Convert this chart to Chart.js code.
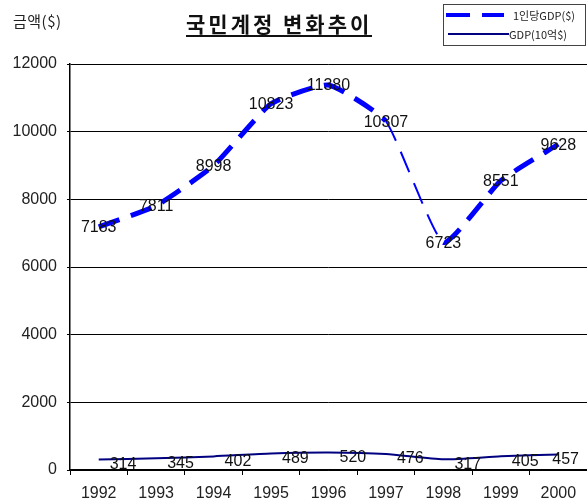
<!doctype html>
<html>
<head>
  <meta charset="utf-8" />
  <title>국민계정 변화추이</title>
  <script src="https://cdn.jsdelivr.net/npm/chart.js"></script>
  <style>
    body { margin: 0; background: #fff; }
    .wrap { position: relative; width: 587px; height: 504px; }
    canvas { position: absolute; left: 0; top: 0; }
    .title { position: absolute; left: 186px; top: 11px; font-family: "Noto Sans CJK KR", sans-serif; font-weight: bold;
             font-size: 21px; line-height: 24px; letter-spacing: 3px; color: #111; border-bottom: 2px solid #111; }
    .unit { position: absolute; left: 13px; top: 10px; font-family: "Noto Sans CJK KR", sans-serif; font-size: 15px; color: #222; letter-spacing: 0.5px; }
    .legend { position: absolute; left: 443px; top: 4px; width: 141px; height: 40px; border: 1px solid #444; background: #fff; }
    .legend .txt { position: absolute; font-family: "Noto Sans CJK KR", sans-serif; font-size: 11px; line-height: 14px; color: #222; white-space: nowrap; }
    .legend .sw { position: absolute; }
  </style>
</head>
<body>
  <div class="wrap">
    <canvas id="chart" width="587" height="504"></canvas>
    <div class="unit">금액($)</div>
    <div class="title">국민계정 변화추이</div>
    <div class="legend">
      <div class="sw" style="left:2px; top:8px; width:24px; height:4px; background:#0000ff;"></div>
      <div class="sw" style="left:38px; top:8px; width:22px; height:4px; background:#0000ff;"></div>
      <div class="txt" style="left:69px; top:3px;">1인당GDP($)</div>
      <div class="sw" style="left:4px; top:28px; width:61px; height:1.5px; background:#000080;"></div>
      <div class="txt" style="left:65px; top:22px;">GDP(10억$)</div>
    </div>
  </div>

  <script>
    const years = ["1992", "1993", "1994", "1995", "1996", "1997", "1998", "1999", "2000"];
    const perCapita = [7183, 7811, 8998, 10823, 11380, 10307, 6723, 8551, 9628];
    const gdp = [314, 345, 402, 489, 520, 476, 317, 405, 457];
    const yTicks = [0, 2000, 4000, 6000, 8000, 10000, 12000];

    Chart.defaults.font.family = "'Liberation Sans', Arial, sans-serif";
    Chart.defaults.font.size = 16;
    Chart.defaults.color = "#222";

    // value labels next to each point
    const valueLabels = {
      id: "valueLabels",
      afterDatasetsDraw(chart) {
        const ctx = chart.ctx;
        ctx.save();
        ctx.font = "16px 'Liberation Sans', Arial, sans-serif";
        ctx.fillStyle = "#111";
        ctx.textBaseline = "middle";
        chart.data.datasets.forEach((ds, i) => {
          const meta = chart.getDatasetMeta(i);
          meta.data.forEach((pt, j) => {
            const txt = String(ds.data[j]);
            if (i === 0) {
              ctx.textAlign = "center";
              ctx.fillText(txt, pt.x, pt.y + 1);
            } else {
              ctx.textAlign = "left";
              const w = ctx.measureText(txt).width;
              const x = Math.min(pt.x + 11, chart.width - w - 8);
              ctx.fillText(txt, x, pt.y + 5);
            }
          });
        });
        ctx.restore();
      }
    };

    new Chart(document.getElementById("chart").getContext("2d"), {
      type: "line",
      data: {
        labels: years,
        datasets: [
          {
            label: "1인당GDP($)",
            data: perCapita,
            borderColor: "#0000ff",
            borderWidth: 5,
            borderDash: [22, 12],
            tension: 0.15,
            pointRadius: 0,
            fill: false,
            segment: { borderWidth: c => (c.p0DataIndex === 5 ? 2 : undefined) }
          },
          {
            label: "GDP(10억$)",
            data: gdp,
            borderColor: "#000080",
            borderWidth: 2,
            tension: 0.2,
            pointRadius: 0,
            fill: false
          }
        ]
      },
      options: {
        responsive: false,
        animation: false,
        layout: { padding: { top: 64, right: 0, left: 0, bottom: 0 } },
        plugins: { legend: { display: false }, title: { display: false }, tooltip: { enabled: false } },
        scales: {
          x: {
            offset: true,
            afterFit: s => { s.height = 34; },
            grid: { display: true, drawOnChartArea: false, offset: true, color: "#000", tickLength: 5 },
            border: { color: "#000", width: 1.5 },
            ticks: { padding: 9, maxRotation: 0, font: { size: 16 } }
          },
          y: {
            min: 0,
            max: 12000,
            afterFit: s => { s.width = 70; },
            afterBuildTicks: s => { s.ticks = yTicks.map(v => ({ value: v })); },
            grid: { color: "#000", lineWidth: 1, tickLength: 3 },
            border: { color: "#000", width: 1.5 },
            ticks: { padding: 10, font: { size: 16 }, callback: v => String(v) }
          }
        }
      },
      plugins: [valueLabels]
    });
  </script>
</body>
</html>
